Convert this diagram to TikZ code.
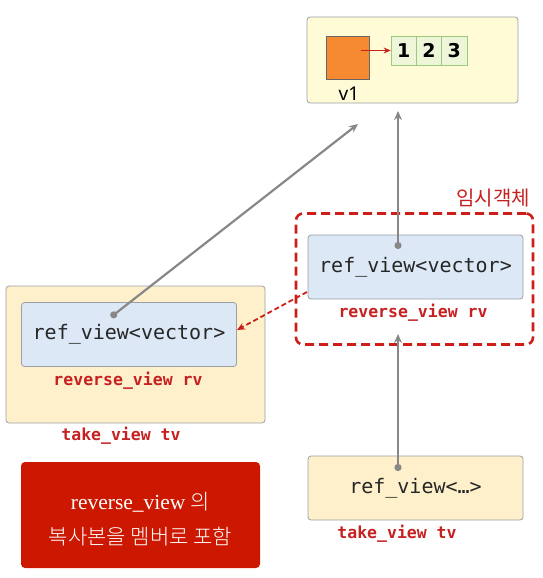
\documentclass[tikz,border=0pt]{standalone}
\usepackage{fontspec}
\setmainfont{Liberation Serif}
\setsansfont{Noto Sans}
\setmonofont{DejaVu Sans Mono}
\newfontfamily\numfont{DejaVu Sans}
\newfontfamily\krsans{Noto Sans CJK KR}
\newfontfamily\krlight{Noto Sans CJK KR Light}
\usetikzlibrary{arrows.meta}
\definecolor{boxgray}{HTML}{9AA0A6}
\definecolor{vyellow}{HTML}{FEFBD6}
\definecolor{tvyellow}{HTML}{FEF0CB}
\definecolor{rvblue}{HTML}{DCE8F6}
\definecolor{labred}{HTML}{C62020}
\definecolor{dashred}{HTML}{CC1F1A}
\definecolor{notered}{HTML}{CC1800}
\definecolor{sqorange}{HTML}{F58A30}
\definecolor{cellgreen}{HTML}{EEF6DA}
\definecolor{cellborder}{HTML}{9CC97A}
\definecolor{linegray}{HTML}{888888}
\tikzset{
  box/.style={draw=boxgray, line width=0.8pt, rounded corners=3pt, inner sep=0pt},
  monotxt/.style={font=\ttfamily\fontsize{20}{24}\selectfont, text=black!85},
  lab/.style={font=\ttfamily\bfseries\fontsize{16.5}{20}\selectfont, text=labred},
  cell/.style={draw=cellborder, fill=cellgreen, line width=0.8pt, minimum width=25.3pt, minimum height=29pt, inner sep=0pt, font=\numfont\bfseries\fontsize{19}{22}\selectfont},
  ptr/.style={draw=linegray, line width=2.2pt, {Circle[length=7pt]}-{Stealth[length=9pt,width=8pt]}},
}
\begin{document}
\begin{tikzpicture}[x=1pt,y=-1pt]
\useasboundingbox (0,0) rectangle (543,578);
% v1 box
\node[box, fill=vyellow, minimum width=211pt, minimum height=86pt] (v1box) at (412.5,60) {};
\node[draw=black!60, fill=sqorange, line width=0.8pt, minimum width=43pt, minimum height=43pt, inner sep=0pt] (osq) at (347.5,57.5) {};
\node[cell] (c1) at (403.7,50.5) {1};
\node[cell] (c2) at (429,50.5) {2};
\node[cell] (c3) at (454.3,50.5) {3};
\node[font=\sffamily\fontsize{19}{22}\selectfont] (v1lab) at (349,94) {v1};
\coordinate (pstart) at (361,50.5);
\draw[draw=dashred, line width=1.6pt, -{Stealth[length=7pt,width=6pt]}] (pstart) -- (c1.west);
% temporary object
\node[draw=dashred, line width=2.6pt, dash pattern=on 9pt off 5pt, rounded corners=7pt, minimum width=237pt, minimum height=131pt, inner sep=0pt] (tmp) at (414.5,279) {};
\node[font=\krsans\fontsize{20}{22}\selectfont, text=labred] (tmplab) at (493,198) {임시객체};
\node[box, fill=rvblue, minimum width=215pt, minimum height=64pt, monotxt] (rvbox) at (415.5,267) {ref\_view<vector>};
\node[lab] (rvlab) at (413,313) {reverse\_view rv};
% left take_view
\node[box, fill=tvyellow, minimum width=259pt, minimum height=137pt] (ltv) at (135.5,354.5) {};
\node[box, fill=rvblue, minimum width=215pt, minimum height=64pt, monotxt] (lrv) at (129,334.5) {ref\_view<vector>};
\node[lab] (lrvlab) at (128,381) {reverse\_view rv};
\node[lab] (ltvlab) at (121,436) {take\_view tv};
% note
\node[fill=notered, rounded corners=4pt, minimum width=239pt, minimum height=106pt, inner sep=0pt] (note) at (140.5,515) {};
\node[text=white, align=center, font=\fontsize{21.5}{26}\selectfont] (notetxt) at (140.5,519) {reverse\_view {\krlight\fontsize{21}{24}\selectfont 의}\\[9pt]{\krlight\fontsize{21}{24}\selectfont 복사본을 멤버로 포함}};
% right take_view
\node[box, fill=tvyellow, minimum width=215pt, minimum height=64pt, monotxt] (tvbox) at (415.5,488) {ref\_view<…>};
\node[lab] (tvlab) at (397,534) {take\_view tv};
% connectors
\coordinate (d1) at (398,249);
\coordinate (a1) at (398,111);
\coordinate (d2) at (111,317);
\coordinate (a2) at (358,124);
\coordinate (d3) at (398,471);
\coordinate (a3) at (398,334);
\coordinate (rs) at (307,292);
\coordinate (le) at (237,330);
\draw[ptr] (d1) -- (a1);
\draw[ptr] (d2) -- (a2);
\draw[ptr] (d3) -- (a3);
\draw[draw=dashred, line width=1.8pt, dash pattern=on 5pt off 3pt, -{Stealth[length=8pt,width=7pt]}] (rs) -- (le);
\end{tikzpicture}
\end{document}
